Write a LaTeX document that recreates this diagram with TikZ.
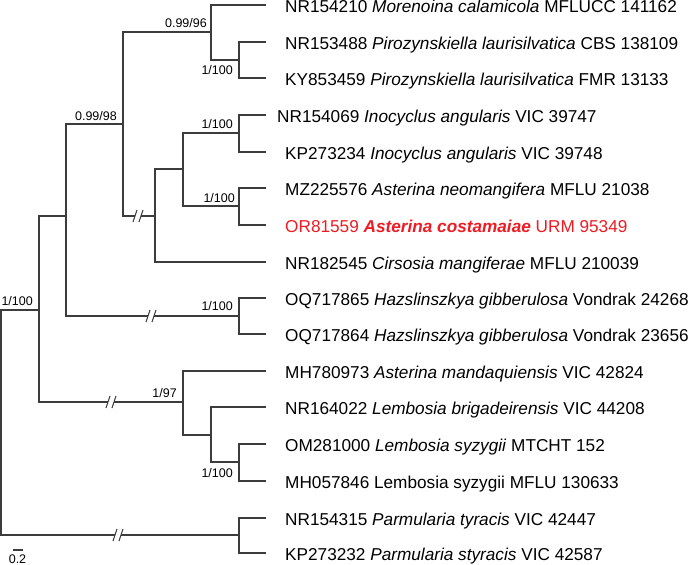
\documentclass[tikz,border=0pt]{standalone}
\usepackage{fontspec}
\setmainfont{Liberation Sans}
\usetikzlibrary{calc}
\definecolor{hl}{RGB}{237,28,36}
\definecolor{ln}{RGB}{60,60,60}
\newcommand{\brkmark}[3]{%
  \fill[white] (#1,#3-3) rectangle (#2,#3+3);
  \draw[br] (#1-2,#3+6) -- (#1+2,#3-6);
  \draw[br] (#2-2,#3+6) -- (#2+2,#3-6);}
\begin{document}
\begin{tikzpicture}[x=1pt,y=-1pt,
  br/.style={line width=1.1pt, draw=ln},
  leaf/.style={anchor=west, inner sep=0pt, font=\fontsize{17.2}{19}\selectfont, text height=12.3pt, text depth=0pt},
  supp/.style={anchor=east, inner sep=0pt, font=\fontsize{12.5}{14}\selectfont, text height=9pt, text depth=0pt}]
\useasboundingbox (0,0) rectangle (689,565);
% leaf tips
\coordinate (t1) at (266,5);
\coordinate (t2) at (266,42);
\coordinate (t3) at (266,78);
\coordinate (t4) at (266,115);
\coordinate (t5) at (266,152);
\coordinate (t6) at (266,188);
\coordinate (t7) at (266,225);
\coordinate (t8) at (266,262);
\coordinate (t9) at (266,298);
\coordinate (t10) at (266,334);
\coordinate (t11) at (266,371);
\coordinate (t12) at (266,407);
\coordinate (t13) at (266,444);
\coordinate (t14) at (266,481);
\coordinate (t15) at (266,518);
\coordinate (t16) at (266,553);
% internal nodes
\coordinate (R) at (1,422.5);
\coordinate (I) at (39,310);
\coordinate (C) at (66,216);
\coordinate (B) at (123,124);
\coordinate (A) at (211,32);
\coordinate (P) at (239,60);
\coordinate (E) at (155,216);
\coordinate (F) at (183,169);
\coordinate (G) at (239,133);
\coordinate (H) at (239,206);
\coordinate (Hz) at (239,316);
\coordinate (J) at (183,402);
\coordinate (K) at (211,435);
\coordinate (L) at (239,462);
\coordinate (M) at (239,535);
% branches
\draw[br] (R) |- (I);
\draw[br] (R) |- (M);
\draw[br] (I) |- (C);
\draw[br] (I) |- (J);
\draw[br] (C) |- (B);
\draw[br] (C) |- (Hz);
\draw[br] (B) |- (A);
\draw[br] (B) |- (E);
\draw[br] (A) |- (t1);
\draw[br] (A) |- (P);
\draw[br] (P) |- (t2);
\draw[br] (P) |- (t3);
\draw[br] (E) |- (F);
\draw[br] (E) |- (t8);
\draw[br] (F) |- (G);
\draw[br] (F) |- (H);
\draw[br] (G) |- (t4);
\draw[br] (G) |- (t5);
\draw[br] (H) |- (t6);
\draw[br] (H) |- (t7);
\draw[br] (Hz) |- (t9);
\draw[br] (Hz) |- (t10);
\draw[br] (J) |- (t11);
\draw[br] (J) |- (K);
\draw[br] (K) |- (t12);
\draw[br] (K) |- (L);
\draw[br] (L) |- (t13);
\draw[br] (L) |- (t14);
\draw[br] (M) |- (t15);
\draw[br] (M) |- (t16);
% breaks
\brkmark{135}{141}{216}
\brkmark{148}{154}{316}
\brkmark{108}{114}{402}
\brkmark{115}{121}{535}
% support values
\node[supp] (s1) at ($(A)+(-4,-9)$) {0.99/96};
\node[supp] (s2) at ($(P)+(-6,10)$) {1/100};
\node[supp] (s3) at ($(B)+(-6,-8)$) {0.99/98};
\node[supp] (s4) at ($(G)+(-6,-9)$) {1/100};
\node[supp] (s5) at ($(H)+(-4,-8)$) {1/100};
\node[supp] (s6) at ($(Hz)+(-6,-10)$) {1/100};
\node[supp] (s7) at ($(I)+(-6,-9)$) {1/100};
\node[supp] (s8) at ($(J)+(-6,-9)$) {1/97};
\node[supp] (s9) at ($(L)+(-6,11)$) {1/100};
% leaf labels
\node[leaf] (n1) at (285,6.5) {NR154210 \textit{Morenoina calamicola} MFLUCC 141162};
\node[leaf] (n2) at (285,43.5) {NR153488 \textit{Pirozynskiella laurisilvatica} CBS 138109};
\node[leaf] (n3) at (285,79.5) {KY853459 \textit{Pirozynskiella laurisilvatica} FMR 13133};
\node[leaf] (n4) at (277,116.5) {NR154069 \textit{Inocyclus angularis} VIC 39747};
\node[leaf] (n5) at (285,153.5) {KP273234 \textit{Inocyclus angularis} VIC 39748};
\node[leaf] (n6) at (285,189.5) {MZ225576 \textit{Asterina neomangifera} MFLU 21038};
\node[leaf, text=hl] (n7) at (285,226.5) {OR81559 \textbf{\textit{Asterina costamaiae}} URM 95349};
\node[leaf] (n8) at (285,263.5) {NR182545 \textit{Cirsosia mangiferae} MFLU 210039};
\node[leaf] (n9) at (285,299.5) {OQ717865 \textit{Hazslinszkya gibberulosa} Vondrak 24268};
\node[leaf] (n10) at (285,335.5) {OQ717864 \textit{Hazslinszkya gibberulosa} Vondrak 23656};
\node[leaf] (n11) at (285,372.5) {MH780973 \textit{Asterina mandaquiensis} VIC 42824};
\node[leaf] (n12) at (285,408.5) {NR164022 \textit{Lembosia brigadeirensis} VIC 44208};
\node[leaf] (n13) at (285,445.5) {OM281000 \textit{Lembosia syzygii} MTCHT 152};
\node[leaf] (n14) at (285,482.5) {MH057846 Lembosia syzygii MFLU 130633};
\node[leaf] (n15) at (285,519.5) {NR154315 \textit{Parmularia tyracis} VIC 42447};
\node[leaf] (n16) at (285,554.5) {KP273232 \textit{Parmularia styracis} VIC 42587};
% scale bar
\coordinate (sb1) at (13,550);
\coordinate (sb2) at (23,550);
\draw[br] (sb1) -- (sb2);
\node[supp, anchor=center] (sbl) at (17.5,558.5) {0.2};
\end{tikzpicture}
\end{document}
